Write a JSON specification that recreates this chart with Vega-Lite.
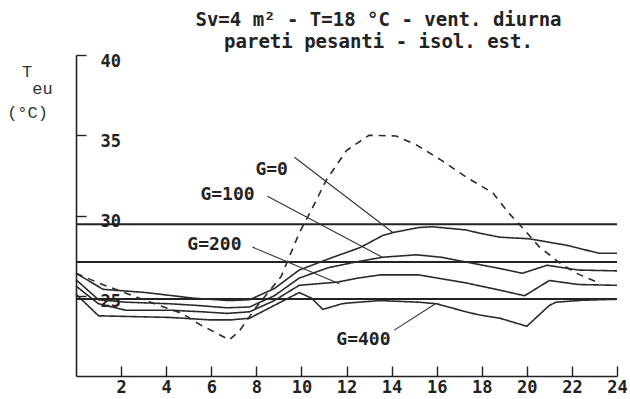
{
  "$schema": "https://vega.github.io/schema/vega-lite/v6.json",
  "width": 541,
  "height": 321,
  "autosize": {"type": "none"},
  "padding": {"left": 76, "top": 55, "right": 13, "bottom": 23},
  "background": "white",
  "title": {
    "text": ["Sv=4 m² - T=18 °C - vent. diurna", "pareti pesanti - isol. est."],
    "font": "DejaVu Sans Mono",
    "fontWeight": "bold",
    "fontSize": 19,
    "lineHeight": 22,
    "color": "#222",
    "anchor": "middle",
    "frame": "group",
    "dx": 32,
    "dy": 24,
    "baseline": "bottom",
    "offset": 5
  },
  "config": {"view": {"stroke": null}},
  "datasets": {
    "refs": [{"h": 0, "h2": 24, "t": 29.45}, {"h": 0, "h2": 24, "t": 27.1}, {"h": 0, "h2": 24, "t": 24.8}],
    "curves": [
      {"s": "esterna", "h": 0, "t": 26.4}, {"s": "esterna", "h": 1, "t": 25.8}, {"s": "esterna", "h": 2.7, "t": 24.9},
      {"s": "esterna", "h": 4.7, "t": 23.9}, {"s": "esterna", "h": 5.5, "t": 23.2}, {"s": "esterna", "h": 6.2, "t": 22.7},
      {"s": "esterna", "h": 6.8, "t": 22.25}, {"s": "esterna", "h": 7.25, "t": 22.8}, {"s": "esterna", "h": 8, "t": 24.3},
      {"s": "esterna", "h": 9.1, "t": 26.2}, {"s": "esterna", "h": 9.9, "t": 28.9}, {"s": "esterna", "h": 10.5, "t": 30.5},
      {"s": "esterna", "h": 11.1, "t": 32.2}, {"s": "esterna", "h": 12, "t": 34.05}, {"s": "esterna", "h": 13, "t": 35.0},
      {"s": "esterna", "h": 14.2, "t": 34.95}, {"s": "esterna", "h": 15.1, "t": 34.4}, {"s": "esterna", "h": 16.2, "t": 33.45},
      {"s": "esterna", "h": 17.3, "t": 32.4}, {"s": "esterna", "h": 18.5, "t": 31.4}, {"s": "esterna", "h": 19.2, "t": 30.15},
      {"s": "esterna", "h": 19.8, "t": 29.25}, {"s": "esterna", "h": 20.55, "t": 28.05}, {"s": "esterna", "h": 21.45, "t": 27.05},
      {"s": "esterna", "h": 22.2, "t": 26.4}, {"s": "esterna", "h": 23.2, "t": 25.8},

      {"s": "G=0", "h": 0, "t": 26.4}, {"s": "G=0", "h": 1.2, "t": 25.4}, {"s": "G=0", "h": 3.1, "t": 25.2},
      {"s": "G=0", "h": 5.2, "t": 24.85}, {"s": "G=0", "h": 6.8, "t": 24.7}, {"s": "G=0", "h": 7.7, "t": 24.75},
      {"s": "G=0", "h": 8.8, "t": 25.45}, {"s": "G=0", "h": 9.9, "t": 26.6}, {"s": "G=0", "h": 11.4, "t": 27.4},
      {"s": "G=0", "h": 12.6, "t": 28.0}, {"s": "G=0", "h": 13.6, "t": 28.75}, {"s": "G=0", "h": 14.1, "t": 28.95},
      {"s": "G=0", "h": 15.2, "t": 29.25}, {"s": "G=0", "h": 15.8, "t": 29.3}, {"s": "G=0", "h": 17.3, "t": 29.1},
      {"s": "G=0", "h": 17.9, "t": 28.9}, {"s": "G=0", "h": 18.8, "t": 28.65}, {"s": "G=0", "h": 20.1, "t": 28.55},
      {"s": "G=0", "h": 21.75, "t": 28.15}, {"s": "G=0", "h": 23.2, "t": 27.65}, {"s": "G=0", "h": 24, "t": 27.65},

      {"s": "G=100", "h": 0, "t": 26.0}, {"s": "G=100", "h": 1, "t": 24.75}, {"s": "G=100", "h": 2.2, "t": 24.6},
      {"s": "G=100", "h": 4.15, "t": 24.5}, {"s": "G=100", "h": 5.35, "t": 24.4}, {"s": "G=100", "h": 6.7, "t": 24.25},
      {"s": "G=100", "h": 7.7, "t": 24.3}, {"s": "G=100", "h": 8.8, "t": 25.0}, {"s": "G=100", "h": 9.9, "t": 26.1},
      {"s": "G=100", "h": 11.2, "t": 26.75}, {"s": "G=100", "h": 12.4, "t": 27.1}, {"s": "G=100", "h": 13.6, "t": 27.4},
      {"s": "G=100", "h": 15.1, "t": 27.55}, {"s": "G=100", "h": 16.2, "t": 27.4}, {"s": "G=100", "h": 17.3, "t": 27.1},
      {"s": "G=100", "h": 18.8, "t": 26.7}, {"s": "G=100", "h": 19.8, "t": 26.4}, {"s": "G=100", "h": 20.9, "t": 26.9},
      {"s": "G=100", "h": 22.3, "t": 26.6}, {"s": "G=100", "h": 24, "t": 26.55},

      {"s": "G=200", "h": 0, "t": 25.6}, {"s": "G=200", "h": 1, "t": 24.5}, {"s": "G=200", "h": 2.2, "t": 24.1},
      {"s": "G=200", "h": 4.15, "t": 24.1}, {"s": "G=200", "h": 5.6, "t": 24.0}, {"s": "G=200", "h": 6.7, "t": 23.9},
      {"s": "G=200", "h": 7.7, "t": 24.0}, {"s": "G=200", "h": 8.8, "t": 24.7}, {"s": "G=200", "h": 9.9, "t": 25.65},
      {"s": "G=200", "h": 11.6, "t": 25.85}, {"s": "G=200", "h": 12.5, "t": 26.1}, {"s": "G=200", "h": 13.5, "t": 26.3},
      {"s": "G=200", "h": 15.2, "t": 26.3}, {"s": "G=200", "h": 17.3, "t": 25.8}, {"s": "G=200", "h": 18.8, "t": 25.35},
      {"s": "G=200", "h": 19.9, "t": 25.0}, {"s": "G=200", "h": 21.0, "t": 25.95}, {"s": "G=200", "h": 22.3, "t": 25.7},
      {"s": "G=200", "h": 24, "t": 25.65},

      {"s": "G=400", "h": 0, "t": 25.1}, {"s": "G=400", "h": 1, "t": 23.75}, {"s": "G=400", "h": 4.15, "t": 23.65},
      {"s": "G=400", "h": 5.9, "t": 23.5}, {"s": "G=400", "h": 6.9, "t": 23.5}, {"s": "G=400", "h": 7.7, "t": 23.6},
      {"s": "G=400", "h": 8.8, "t": 24.4}, {"s": "G=400", "h": 9.9, "t": 25.2}, {"s": "G=400", "h": 10.45, "t": 24.85},
      {"s": "G=400", "h": 10.95, "t": 24.15}, {"s": "G=400", "h": 11.8, "t": 24.5}, {"s": "G=400", "h": 12.1, "t": 24.55},
      {"s": "G=400", "h": 13.5, "t": 24.7}, {"s": "G=400", "h": 15.2, "t": 24.6}, {"s": "G=400", "h": 16, "t": 24.5},
      {"s": "G=400", "h": 17.3, "t": 24.0}, {"s": "G=400", "h": 17.9, "t": 23.8}, {"s": "G=400", "h": 18.8, "t": 23.6},
      {"s": "G=400", "h": 20, "t": 23.1}, {"s": "G=400", "h": 21, "t": 24.4}, {"s": "G=400", "h": 21.3, "t": 24.6},
      {"s": "G=400", "h": 22.5, "t": 24.72}, {"s": "G=400", "h": 24, "t": 24.78}
    ],
    "leaders": [
      {"label": "G=0", "h": 9.69, "t": 33.63, "h2": 14.04, "t2": 28.96},
      {"label": "G=100", "h": 8.49, "t": 31.2, "h2": 13.59, "t2": 27.4},
      {"label": "G=200", "h": 7.83, "t": 28.03, "h2": 11.68, "t2": 25.75},
      {"label": "G=400", "h": 14.12, "t": 22.86, "h2": 15.98, "t2": 24.53}
    ],
    "labels": [
      {"label": "G=0", "h": 8.68, "t": 32.81},
      {"label": "G=100", "h": 6.72, "t": 31.26},
      {"label": "G=200", "h": 6.14, "t": 28.15},
      {"label": "G=400", "h": 12.75, "t": 22.24}
    ],
    "unit": [
      {"label": "T", "h": -2.17, "t": 38.92},
      {"label": "eu", "h": -1.49, "t": 37.86},
      {"label": "(°C)", "h": -2.15, "t": 36.4}
    ]
  },
  "encoding": {
    "x": {
      "field": "h", "type": "quantitative",
      "scale": {"domain": [0, 24], "nice": false, "zero": false},
      "axis": {
        "values": [2, 4, 6, 8, 10, 12, 14, 16, 18, 20, 22, 24],
        "title": null, "grid": false,
        "domainColor": "#222", "domainWidth": 1.6,
        "tickColor": "#222", "tickWidth": 1.4, "tickSize": -10,
        "labelFont": "DejaVu Sans Mono", "labelFontWeight": "bold", "labelFontSize": 17,
        "labelColor": "#222", "labelPadding": 13, "labelBaseline": "top",
        "labelFlush": false, "labelOverlap": false
      }
    },
    "y": {
      "field": "t", "type": "quantitative",
      "scale": {"domain": [20, 40], "nice": false, "zero": false},
      "axis": {
        "values": [25, 30, 35, 40],
        "grid": false, "title": null,
        "domainColor": "#222", "domainWidth": 1.6,
        "tickColor": "#222", "tickWidth": 1.4, "tickSize": -10,
        "labelFont": "DejaVu Sans Mono", "labelFontWeight": "bold", "labelFontSize": 17,
        "labelColor": "#222", "labelAlign": "left", "labelBaseline": "middle",
        "labelPadding": -14, "labelOffset": 6, "labelFlush": false, "labelOverlap": false
      }
    }
  },
  "layer": [
    {
      "data": {"name": "refs"},
      "mark": {"type": "rule", "color": "#222", "strokeWidth": 2},
      "encoding": {"x2": {"field": "h2"}}
    },
    {
      "data": {"name": "curves"},
      "mark": {"type": "line", "color": "#2a2a2a", "strokeWidth": 1.6},
      "encoding": {
        "strokeDash": {
          "field": "s", "type": "nominal",
          "scale": {"domain": ["esterna", "G=0", "G=100", "G=200", "G=400"], "range": [[7, 6], [1, 0], [1, 0], [1, 0], [1, 0]]},
          "legend": null
        }
      }
    },
    {
      "data": {"name": "leaders"},
      "mark": {"type": "rule", "color": "#333", "strokeWidth": 1.1},
      "encoding": {"x2": {"field": "h2"}, "y2": {"field": "t2"}}
    },
    {
      "data": {"name": "labels"},
      "mark": {"type": "text", "font": "DejaVu Sans Mono", "fontWeight": "bold", "fontSize": 18, "color": "#222", "align": "center", "baseline": "middle"},
      "encoding": {"text": {"field": "label"}}
    },
    {
      "data": {"name": "unit"},
      "mark": {"type": "text", "font": "Liberation Mono", "fontSize": 17, "color": "#333", "align": "center", "baseline": "middle"},
      "encoding": {"text": {"field": "label"}}
    }
  ]
}
